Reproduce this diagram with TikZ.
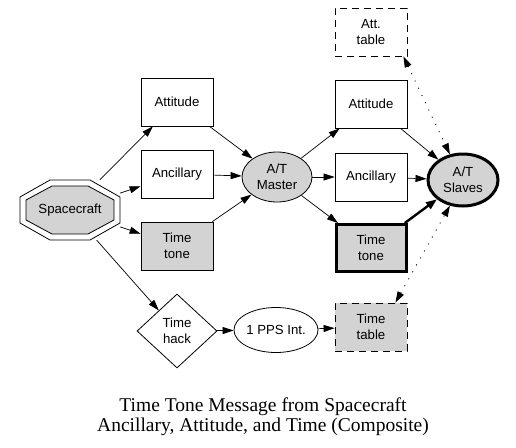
\documentclass[tikz,border=0pt]{standalone}
\usepackage{fontspec}
\setmainfont{Liberation Serif}
\newfontfamily\arialf{Liberation Sans}
\usetikzlibrary{arrows.meta,shapes.geometric}
\definecolor{gvgray}{RGB}{211,211,211}
\tikzset{
  nodefont/.style={font=\arialf\fontsize{13.2}{15.5}\selectfont},
  box/.style={nodefont, rectangle, draw, line width=0.8pt, minimum width=72pt, minimum height=48pt, inner sep=0pt, align=center},
  grayfill/.style={fill=gvgray},
  thickbox/.style={line width=3pt},
  dashbox/.style={dash pattern=on 7pt off 5pt},
  oval/.style={nodefont, ellipse, draw, line width=0.8pt, minimum width=72pt, minimum height=48pt, inner sep=0pt, align=center},
  diam/.style={nodefont, diamond, draw, line width=0.8pt, minimum width=80pt, minimum height=74pt, inner sep=0pt, align=center},
  edge/.style={line width=0.7pt, -{Triangle[length=11pt,width=7pt]}},
  dotedge/.style={line width=0.9pt, dash pattern=on 1pt off 7pt, {Triangle[length=11pt,width=7pt]}-{Triangle[length=11pt,width=7pt]}},
  thickedge/.style={line width=2.4pt, -{Triangle[length=11pt,width=8pt]}},
}
\begin{document}
\begin{tikzpicture}[x=1pt,y=-1pt]
\useasboundingbox (0,0) rectangle (516,447);
% spacecraft (double octagon)
\node[nodefont, rectangle, minimum width=100pt, minimum height=60pt, inner sep=0pt] (sc) at (70,210) {};
\draw[line width=0.8pt, fill=white] (50,180) -- (90,180) -- (120,197) -- (120,223) -- (90,240) -- (50,240) -- (20,223) -- (20,197) -- cycle;
\draw[line width=0.8pt, fill=gvgray] (52,186) -- (88,186) -- (114,200) -- (114,220) -- (88,234) -- (52,234) -- (26,220) -- (26,200) -- cycle;
\node[nodefont] at (sc.center) {Spacecraft};

\node[box] (att1) at (177,102) {Attitude};
\node[box] (anc1) at (177,174) {Ancillary};
\node[box, grayfill] (tt1) at (177,246) {Time\\tone};
\node[diam] (hack) at (177,331) {Time\\hack};

\node[oval, grayfill, minimum width=70pt, minimum height=50pt] (master) at (277,177) {A/T\\Master};
\node[oval, minimum width=78pt, minimum height=45pt] (pps) at (276,330) {1 PPS Int.};

\node[box, dashbox] (atttab) at (371,32) {Att.\\table};
\node[box] (att2) at (371,104) {Attitude};
\node[box] (anc2) at (371,177) {Ancillary};
\node[box, grayfill, thickbox, minimum width=70pt, minimum height=47pt] (tt2) at (371,248) {Time\\tone};
\node[box, grayfill, dashbox] (ttab) at (371,327) {Time\\table};

\node[oval, grayfill, thickbox, minimum width=70pt, minimum height=52pt] (slaves) at (463,180) {A/T\\Slaves};

\node[font=\fontsize{19.5}{20}\selectfont, align=center, inner sep=0pt] (cap) at (263,416.5) {Time Tone Message from Spacecraft\\Ancillary, Attitude, and Time (Composite)};

% edges
\draw[edge] (sc) -- (att1);
\draw[edge] (sc) -- (anc1);
\draw[edge] (sc) -- (tt1);
\draw[edge] (sc) -- (hack);
\draw[edge] (att1) -- (master);
\draw[edge] (anc1) -- (master);
\draw[edge] (tt1) -- (master);
\draw[edge] (master) -- (att2);
\draw[edge] (master) -- (anc2);
\draw[edge] (master) -- (tt2);
\draw[edge] (att2) -- (slaves);
\draw[edge] (anc2) -- (slaves);
\draw[thickedge] (tt2) -- (slaves);
\draw[edge] (hack) -- (pps);
\draw[edge] (pps) -- (ttab);
\draw[dotedge] ([xshift=-4pt]atttab.south east) -- (slaves.117);
\draw[dotedge] ([xshift=-12pt]ttab.north east) -- (slaves.243);
\end{tikzpicture}
\end{document}
